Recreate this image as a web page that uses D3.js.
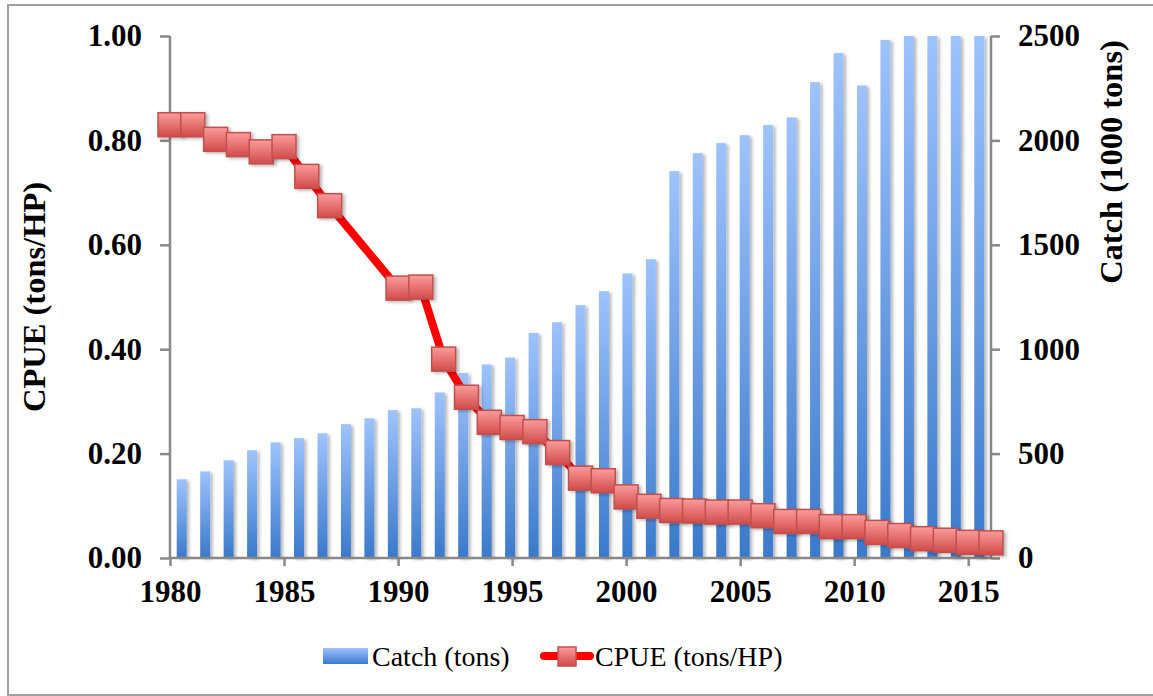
<!DOCTYPE html>
<html>
<head>
<meta charset="utf-8">
<script src="https://cdn.jsdelivr.net/npm/d3@7/dist/d3.min.js"></script>
<style>
  body { margin: 0; background: #fff; }
  svg { display: block; font-family: "Liberation Serif", "Times New Roman", serif; }
</style>
</head>
<body>
<span></span>
<script>
// years that have data (1988 and 1989 are missing)
var years = [1980, 1981, 1982, 1983, 1984, 1985, 1986, 1987,
    1990, 1991, 1992, 1993, 1994, 1995, 1996, 1997, 1998, 1999,
    2000, 2001, 2002, 2003, 2004, 2005, 2006, 2007, 2008, 2009,
    2010, 2011, 2012, 2013, 2014, 2015, 2016];

// catch, 1000 tons (right axis)
var catchValues = [377, 415, 468, 516, 554, 574, 597, 641,
    669, 708, 717, 793, 886, 927, 960, 1078, 1129, 1211,
    1278, 1363, 1431, 1853, 1939, 1987, 2025, 2073, 2110, 2279,
    2418, 2263, 2481, 2500, 2500, 2500, 2500];

// CPUE, tons/HP (left axis)
var cpueValues = [0.830, 0.830, 0.802, 0.792, 0.778, 0.788, 0.731, 0.675,
    0.517, 0.519, 0.381, 0.308, 0.260, 0.250, 0.242, 0.202, 0.153, 0.148,
    0.117, 0.099, 0.091, 0.090, 0.088, 0.088, 0.081, 0.070, 0.070, 0.060,
    0.060, 0.049, 0.043, 0.037, 0.034, 0.030, 0.029];

var leftTicks = [0, 0.2, 0.4, 0.6, 0.8, 1.0];
var rightTicks = [0, 500, 1000, 1500, 2000, 2500];
var yearTicks = [1980, 1985, 1990, 1995, 2000, 2005, 2010, 2015];

window.onload = function draw() {
    var width = 1153;
    var height = 696;
    var left = 170, right = 991, top = 36, bottom = 558;
    var axisColor = "#888888";

    var svg = d3.select("span")
        .append("svg")
        .attr("width", width)
        .attr("height", height);

    var defs = svg.append("defs");

    var barGrad = defs.append("linearGradient")
        .attr("id", "barGrad")
        .attr("x1", 0).attr("y1", 0).attr("x2", 0).attr("y2", 1);
    barGrad.append("stop").attr("offset", "0%").attr("stop-color", "#9ec3fd");
    barGrad.append("stop").attr("offset", "100%").attr("stop-color", "#3a79cb");

    var markGrad = defs.append("linearGradient")
        .attr("id", "markGrad")
        .attr("x1", 0).attr("y1", 0).attr("x2", 0).attr("y2", 1);
    markGrad.append("stop").attr("offset", "0%").attr("stop-color", "#fb9c9b");
    markGrad.append("stop").attr("offset", "100%").attr("stop-color", "#d04b4a");

    var shadow = defs.append("filter")
        .attr("id", "shadow")
        .attr("x", "-50%").attr("y", "-20%")
        .attr("width", "200%").attr("height", "140%");
    shadow.append("feDropShadow")
        .attr("dx", 2.5).attr("dy", 1.5)
        .attr("stdDeviation", 1.8)
        .attr("flood-color", "#000")
        .attr("flood-opacity", 0.28);

    // outer frame
    svg.append("rect")
        .attr("x", 8).attr("y", 5)
        .attr("width", 1200).attr("height", 690)
        .attr("fill", "none")
        .attr("stroke", "#a0a0a0")
        .attr("stroke-width", 2);

    // scales
    var xBand = d3.scaleBand()
        .domain(years)
        .range([left, right])
        .paddingInner(0.574)
        .paddingOuter(0.287);
    var xYear = d3.scaleLinear().domain([1980, 2016]).range([left, right]);
    var yLeft = d3.scaleLinear().domain([0, 1]).range([bottom, top]);
    var yRight = d3.scaleLinear().domain([0, 2500]).range([bottom, top]);

    // bars
    svg.append("g")
        .selectAll("rect")
        .data(catchValues)
        .enter()
        .append("rect")
        .attr("x", function(d, i) { return xBand(years[i]); })
        .attr("y", function(d) { return yRight(d); })
        .attr("width", xBand.bandwidth())
        .attr("height", function(d) { return bottom - yRight(d); })
        .attr("fill", "url(#barGrad)")
        .attr("filter", "url(#shadow)");

    // axes
    var fmt2 = d3.format(".2f");
    var gl = svg.append("g")
        .attr("transform", "translate(" + left + ",0)")
        .call(d3.axisLeft(yLeft).tickValues(leftTicks).tickFormat(fmt2).tickSize(10).tickPadding(18));
    var gr = svg.append("g")
        .attr("transform", "translate(" + right + ",0)")
        .call(d3.axisRight(yRight).tickValues(rightTicks).tickFormat(d3.format("d")).tickSize(9).tickPadding(18));
    var gb = svg.append("g")
        .attr("transform", "translate(0," + bottom + ")")
        .call(d3.axisBottom(xYear).tickValues(yearTicks).tickFormat(d3.format("d")).tickSize(8).tickPadding(14));

    [gl, gr, gb].forEach(function(g) {
        g.select(".domain")
            .attr("stroke", axisColor)
            .attr("stroke-width", 2.5);
        g.selectAll(".tick line")
            .attr("stroke", axisColor)
            .attr("stroke-width", 2.5);
        g.selectAll(".tick text")
            .attr("fill", "#000")
            .style("font-family", "'Liberation Serif', 'Times New Roman', serif")
            .style("font-weight", "bold")
            .style("font-size", "31px");
    });
    gl.select(".domain").attr("d", "M0," + bottom + "V" + top);
    gr.select(".domain").attr("d", "M0," + bottom + "V" + top);
    gb.select(".domain").attr("d", "M" + left + ",0H" + right);

    // CPUE line
    var line = d3.line()
        .x(function(d, i) { return xYear(years[i]); })
        .y(function(d) { return yLeft(d); });

    svg.append("path")
        .datum(cpueValues)
        .attr("d", line)
        .attr("fill", "none")
        .attr("stroke", "#ff0000")
        .attr("stroke-width", 8)
        .attr("stroke-linejoin", "round");

    var mark = 24;
    svg.append("g")
        .selectAll("rect")
        .data(cpueValues)
        .enter()
        .append("rect")
        .attr("x", function(d, i) { return xYear(years[i]) - mark / 2; })
        .attr("y", function(d) { return yLeft(d) - mark / 2; })
        .attr("width", mark)
        .attr("height", mark)
        .attr("fill", "url(#markGrad)")
        .attr("stroke", "#c0504d")
        .attr("stroke-width", 1.5)
        .attr("filter", "url(#shadow)");

    // axis titles
    svg.append("text")
        .attr("transform", "translate(45,297) rotate(-90)")
        .attr("text-anchor", "middle")
        .style("font-weight", "bold")
        .style("font-size", "32.5px")
        .text("CPUE (tons/HP)");

    svg.append("text")
        .attr("transform", "translate(1122,162) rotate(-90)")
        .attr("text-anchor", "middle")
        .style("font-weight", "bold")
        .style("font-size", "32.5px")
        .text("Catch (1000 tons)");

    // legend
    var legend = svg.append("g");
    legend.append("rect")
        .attr("x", 323).attr("y", 648)
        .attr("width", 45).attr("height", 16)
        .attr("fill", "url(#barGrad)");
    legend.append("text")
        .attr("x", 372).attr("y", 666)
        .style("font-size", "28px")
        .text("Catch (tons)");
    legend.append("line")
        .attr("x1", 544).attr("x2", 590)
        .attr("y1", 656).attr("y2", 656)
        .attr("stroke", "#ff0000")
        .attr("stroke-width", 8)
        .attr("stroke-linecap", "round");
    legend.append("rect")
        .attr("x", 558).attr("y", 647)
        .attr("width", 18).attr("height", 19)
        .attr("fill", "url(#markGrad)")
        .attr("stroke", "#c0504d")
        .attr("stroke-width", 1.5);
    legend.append("text")
        .attr("x", 595).attr("y", 666)
        .style("font-size", "28px")
        .text("CPUE (tons/HP)");
};
</script>
</body>
</html>
